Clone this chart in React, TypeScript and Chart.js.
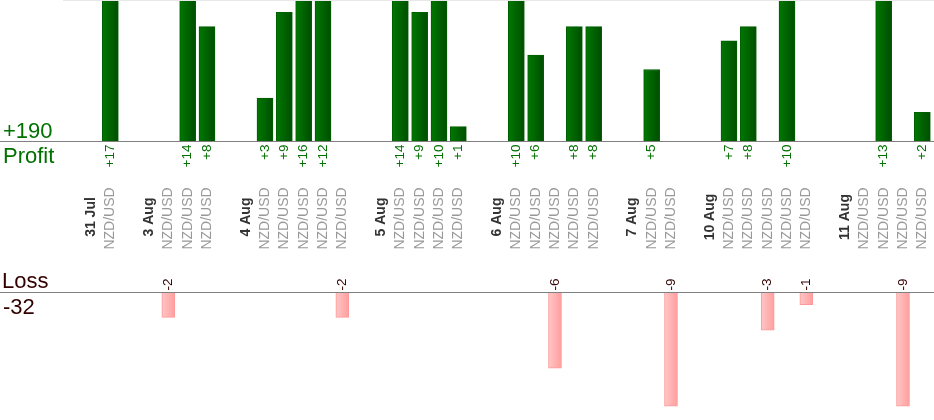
import { useEffect, useRef } from "react";
import { Chart, registerables } from "chart.js";

Chart.register(...registerables);

// one slot per column: a blank spacer, the day, then one slot per trade
const labels = [
  "", "31 Jul", "NZD/USD",
  "", "3 Aug", "NZD/USD", "NZD/USD", "NZD/USD",
  "", "4 Aug", "NZD/USD", "NZD/USD", "NZD/USD", "NZD/USD", "NZD/USD",
  "", "5 Aug", "NZD/USD", "NZD/USD", "NZD/USD", "NZD/USD",
  "", "6 Aug", "NZD/USD", "NZD/USD", "NZD/USD", "NZD/USD", "NZD/USD",
  "", "7 Aug", "NZD/USD", "NZD/USD",
  "", "10 Aug", "NZD/USD", "NZD/USD", "NZD/USD", "NZD/USD", "NZD/USD",
  "", "11 Aug", "NZD/USD", "NZD/USD", "NZD/USD", "NZD/USD",
];

const profit = [
  null, null, 17,
  null, null, null, 14, 8,
  null, null, 3, 9, 16, 12, null,
  null, null, 14, 9, 10, 1,
  null, null, 10, 6, null, 8, 8,
  null, null, 5, null,
  null, null, 7, 8, null, 10, null,
  null, null, null, 13, null, 2,
];

const loss = [
  null, null, null,
  null, null, -2, null, null,
  null, null, null, null, null, null, -2,
  null, null, null, null, null, null,
  null, null, null, null, -6, null, null,
  null, null, null, -9,
  null, null, null, null, -3, null, -1,
  null, null, null, null, -9, null,
];

const FONT = "'Liberation Sans', Arial, sans-serif";
const GREEN = "#007000";
const DARK = "#330000";

const barGradient = (from: string, to: string, half: number) => (ctx: any) => {
  const chart = ctx.chart;
  if (!chart.chartArea || ctx.dataIndex === undefined) return to;
  const x = chart.scales.x.getPixelForValue(ctx.dataIndex);
  const g = chart.ctx.createLinearGradient(x - half, 0, x + half, 0);
  g.addColorStop(0, from);
  g.addColorStop(1, to);
  return g;
};

const overlay = {
  id: "overlay",
  afterDatasetsDraw(chart: any) {
    const { ctx, scales, chartArea, width } = chart;
    const xs = scales.x;
    const baseP = Math.round(scales.yP.getPixelForValue(0)) + 0.5;
    const baseL = Math.round(scales.yL.getPixelForValue(0)) + 0.5;
    ctx.save();

    // top rule and the two baselines
    ctx.lineWidth = 1;
    ctx.strokeStyle = "#e8e8e8";
    ctx.beginPath();
    ctx.moveTo(chartArea.left + 1, 0.5);
    ctx.lineTo(width, 0.5);
    ctx.stroke();
    ctx.strokeStyle = "#808080";
    ctx.beginPath();
    ctx.moveTo(0, baseP);
    ctx.lineTo(width, baseP);
    ctx.moveTo(0, baseL);
    ctx.lineTo(width, baseL);
    ctx.stroke();

    // value labels
    ctx.textBaseline = "middle";
    profit.forEach((v, i) => {
      if (v == null) return;
      ctx.save();
      ctx.translate(xs.getPixelForValue(i), baseP + 3);
      ctx.rotate(-Math.PI / 2);
      ctx.font = `13.5px ${FONT}`;
      ctx.fillStyle = GREEN;
      ctx.textAlign = "right";
      ctx.fillText("+" + v, 0, 0);
      ctx.restore();
    });
    loss.forEach((v, i) => {
      if (v == null) return;
      ctx.save();
      ctx.translate(xs.getPixelForValue(i), baseL - 2);
      ctx.rotate(-Math.PI / 2);
      ctx.font = `13.5px ${FONT}`;
      ctx.fillStyle = DARK;
      ctx.textAlign = "left";
      ctx.fillText(String(v), 0, 0);
      ctx.restore();
    });

    // category labels
    labels.forEach((t, i) => {
      if (!t) return;
      const isDay = t !== "NZD/USD";
      ctx.save();
      ctx.translate(xs.getPixelForValue(i), isDay ? 217 : 218.5);
      ctx.rotate(-Math.PI / 2);
      ctx.font = `${isDay ? "bold " : ""}14px ${FONT}`;
      ctx.fillStyle = isDay ? "#333333" : "#999999";
      ctx.textAlign = "center";
      ctx.fillText(t, 0, 0);
      ctx.restore();
    });

    // totals on the left
    const totalP = profit.reduce((s: number, v) => s + (v ?? 0), 0);
    const totalL = loss.reduce((s: number, v) => s + (v ?? 0), 0);
    ctx.textBaseline = "alphabetic";
    ctx.textAlign = "left";
    ctx.font = `22px ${FONT}`;
    ctx.fillStyle = GREEN;
    ctx.fillText("+" + totalP, 3, 138);
    ctx.fillText("Profit", 3, 163);
    ctx.fillStyle = DARK;
    ctx.fillText("Loss", 2, 288);
    ctx.fillText(String(totalL), 3, 314);
    ctx.restore();
  },
};

export default function App() {
  const chartRef = useRef<HTMLCanvasElement | null>(null);

  useEffect(() => {
    if (!chartRef.current) return;
    const chart = new Chart(chartRef.current, {
      type: "bar",
      data: {
        labels,
        datasets: [
          {
            label: "Profit",
            data: profit,
            yAxisID: "yP",
            grouped: false,
            barThickness: 16,
            backgroundColor: barGradient("#007800", "#004e00", 8),
            borderColor: "#005f00",
            borderWidth: 1,
          },
          {
            label: "Loss",
            data: loss,
            yAxisID: "yL",
            grouped: false,
            barThickness: 13,
            backgroundColor: barGradient("#ffc6c6", "#ff9e9e", 6.5),
            borderColor: "#ff9999",
            borderWidth: 1,
          },
        ],
      },
      options: {
        animation: false,
        responsive: true,
        maintainAspectRatio: false,
        layout: { padding: { left: 62, right: 2, top: 0, bottom: 0 } },
        plugins: {
          legend: { display: false },
          tooltip: { enabled: false },
        },
        scales: {
          x: { display: false },
          yP: { display: false, min: -19.51, max: 9.86 },
          yL: { display: false, min: -10.08, max: 22.99 },
        },
      },
      plugins: [overlay],
    });
    return () => chart.destroy();
  }, []);

  return (
    <div style={{ position: "absolute", left: 0, top: 0, width: 934, height: 420, background: "#fff" }}>
      <canvas ref={chartRef}></canvas>
    </div>
  );
}
